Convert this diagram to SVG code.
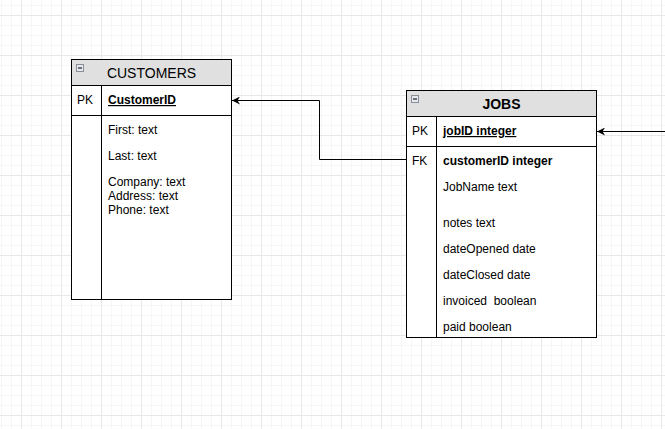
<svg xmlns="http://www.w3.org/2000/svg" width="665" height="429" viewBox="0 0 665 429">
<style>
.box{fill:#ffffff;stroke:#000000;stroke-width:1}
.hdr{fill:#e0e0e0;stroke:#000000;stroke-width:1}
.ln{stroke:#000000;stroke-width:1;fill:none}
.t{font-family:"Liberation Sans",Arial,sans-serif;font-size:12px;fill:#000000}
.b{font-weight:bold}
.u{text-decoration:underline}
.h{font-family:"Liberation Sans",Arial,sans-serif;font-size:14px;fill:#000000;text-anchor:middle}
.edge{stroke:#000000;stroke-width:1;fill:none}
.ico{fill:#e4e8ee;stroke:#8a909a;stroke-width:1}
.minus{stroke:#222222;stroke-width:1.2}
</style>
<defs>
<pattern id="grid" x="21" y="15" width="40" height="40" patternUnits="userSpaceOnUse">
<path d="M10.5 0V40M20.5 0V40M30.5 0V40M0 10.5H40M0 20.5H40M0 30.5H40" stroke="#f6f6f6" stroke-width="1" fill="none"/>
<path d="M0.5 0V40M0 0.5H40" stroke="#e8e8e8" stroke-width="1" fill="none"/>
</pattern>
<marker id="arr" viewBox="0 0 10 10" refX="10" refY="5" markerWidth="8" markerHeight="8" markerUnits="userSpaceOnUse" orient="auto">
<path d="M0 0L10 5L0 10L3 5Z" fill="#000000"/>
</marker>
</defs>
<rect x="0" y="0" width="665" height="429" fill="#ffffff"/>
<rect x="0" y="0" width="665" height="429" fill="url(#grid)"/>

<g id="edges">
<path class="edge" d="M406.5 159.5H319.5V100.5H232" marker-end="url(#arr)"/>
<path class="edge" d="M665 131.5H597" marker-end="url(#arr)"/>
</g>

<g id="customers">
<rect class="box" x="71.5" y="59.5" width="160" height="240"/>
<rect class="hdr" x="71.5" y="59.5" width="160" height="26"/>
<rect class="ico" x="76.5" y="64.5" width="7" height="7"/>
<path class="minus" d="M78 68H82"/>
<text class="h" x="151.5" y="78">CUSTOMERS</text>
<path class="ln" d="M71.5 115.5H231.5M101.5 85.5V299.5"/>
<text class="t" x="77" y="104">PK</text>
<text class="t b u" x="108" y="104">CustomerID</text>
<text class="t" x="108" y="134">First: text</text>
<text class="t" x="108" y="160">Last: text</text>
<text class="t" x="108" y="186">Company: text</text>
<text class="t" x="108" y="200">Address: text</text>
<text class="t" x="108" y="214">Phone: text</text>
</g>

<g id="jobs">
<rect class="box" x="406.5" y="90.5" width="190" height="247"/>
<rect class="hdr" x="406.5" y="90.5" width="190" height="26"/>
<rect class="ico" x="411.5" y="95.5" width="7" height="7"/>
<path class="minus" d="M413 99H417"/>
<text class="h b" x="501.5" y="109">JOBS</text>
<path class="ln" d="M406.5 146.5H596.5M436.5 116.5V337.5"/>
<text class="t" x="412" y="135">PK</text>
<text class="t b u" x="443" y="135">jobID integer</text>
<text class="t" x="412" y="165">FK</text>
<text class="t b" x="443" y="165">customerID integer</text>
<text class="t" x="443" y="191">JobName text</text>
<text class="t" x="443" y="227">notes text</text>
<text class="t" x="443" y="253">dateOpened date</text>
<text class="t" x="443" y="279">dateClosed date</text>
<text class="t" x="443" y="305" xml:space="preserve">invoiced  boolean</text>
<text class="t" x="443" y="331">paid boolean</text>
</g>
</svg>
